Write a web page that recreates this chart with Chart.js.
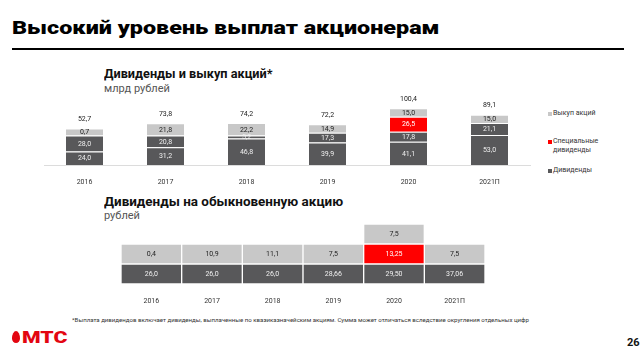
<!DOCTYPE html>
<html lang="ru">
<head>
<meta charset="utf-8">
<script src="https://cdn.jsdelivr.net/npm/chart.js@4"></script>
<style>
    body { margin: 0; width: 640px; height: 350px; background: #fff; position: relative; overflow: hidden;
           font-family: Roboto, 'Noto Sans', sans-serif; color: #222; }
    .abs { position: absolute; white-space: nowrap; transform-origin: 0 0; }
    .title { left: 12px; top: 18px; font-size: 19px; line-height: 19px; font-weight: 900; color: #000; }
    .rule { position: absolute; left: 12px; top: 48px; width: 612px; height: 2px; background: #000; }
    .h2 { left: 104px; font-size: 13px; line-height: 13px; font-weight: 700; color: #111; }
    .unit { left: 104px; font-size: 11px; line-height: 11px; color: #555; }
    .legend { left: 553px; font-size: 7px; line-height: 9px; color: #333; }
    .mark { position: absolute; left: 548px; width: 4px; height: 4px; }
    .note { left: 72px; top: 317px; font-size: 6px; line-height: 6px; color: #333; }
    .logo { left: 22px; top: 329px; font-size: 17px; line-height: 17px; font-weight: 900; color: #e30611; }
    .egg { position: absolute; left: 12px; top: 331px; width: 8px; height: 12px; background: #e30611;
           border-radius: 50% 50% 50% 50% / 62% 62% 38% 38%; }
    .page { left: 627px; top: 337px; font-size: 11px; line-height: 11px; font-weight: 700; color: #111; }
    canvas { position: absolute; left: 0; }
</style>
</head>
<body>
<div class="abs title" id="title">Высокий уровень выплат акционерам</div>
<div class="rule"></div>

<div class="abs h2" id="h2a" style="top:67px">Дивиденды и выкуп акций*</div>
<div class="abs unit" style="top:83px">млрд рублей</div>

<div class="mark" style="top:112px;background:#c8c8c8"></div>
<div class="abs legend" style="top:109px">Выкуп акций</div>
<div class="mark" style="top:140px;background:#ff0000"></div>
<div class="abs legend" style="top:137px">Специальные<br>дивиденды</div>
<div class="mark" style="top:169px;background:#58585a"></div>
<div class="abs legend" style="top:166px">Дивиденды</div>

<div class="abs h2" id="h2b" style="top:195px">Дивиденды на обыкновенную акцию</div>
<div class="abs unit" style="top:210px">рублей</div>

<canvas id="chart-buyback" width="560" height="95" style="top:90px"></canvas>
<canvas id="chart-dps" width="560" height="94" style="top:210px"></canvas>

<div class="abs note" id="note">*Выплата дивидендов включает дивиденды, выплаченные по квазиказначейским акциям. Сумма может отличаться вследствие округления отдельных цифр</div>
<div class="egg"></div>
<div class="abs logo" id="logo">МТС</div>
<div class="abs page">26</div>

<script>
// ==================== DATOS ====================

const years = ['2016', '2017', '2018', '2019', '2020', '2021П'];

// Дивиденды и выкуп акций, млрд руб.
const divFirst   = [24.0, 31.2, 46.8, 39.9, 41.1, 53.0];
const divSecond  = [28.0, 20.8, 5.2, 17.3, 17.8, 21.1];
const divSpecial = [null, null, null, null, 26.5, null];
const buyback    = [0.7, 21.8, 22.2, 14.9, 15.0, 15.0];
const totals     = [52.7, 73.8, 74.2, 72.2, 100.4, 89.1];

// Дивиденды на обыкновенную акцию, руб.
const dpsBase       = [26.0, 26.0, 26.0, 28.66, 29.50, 37.06];
const dpsBaseDigits = [1, 1, 1, 2, 2, 2];
const dpsSecond     = [0.4, 10.9, 11.1, 7.5, null, 7.5];
const dpsSpecial    = [null, null, null, null, 13.25, null];
const dpsExtra      = [null, null, null, null, 7.5, null];

const DARK = '#58585a', LIGHT = '#c8c8c8', RED = '#ff0000';

Chart.defaults.font.family = 'Roboto';
Chart.defaults.color = '#333';

function fmt(v, d) {
    if (d == null) d = Math.abs(v * 10 - Math.round(v * 10)) > 1e-6 ? 2 : 1;
    return v.toFixed(d).replace('.', ',');
}

// ── Etiquetas dentro de cada segmento + totales arriba ──────

const segLabels = {
    id: 'segLabels',
    afterDatasetsDraw(chart, args, opts) {
        const ctx = chart.ctx;
        ctx.save();
        ctx.font = '7px Roboto';
        ctx.textAlign = 'center';
        ctx.textBaseline = 'middle';
        const tops = [];
        chart.data.datasets.forEach((ds, di) => {
            const vals = ds.values || ds.data;
            chart.getDatasetMeta(di).data.forEach((bar, i) => {
                const v = vals[i];
                if (v == null) return;
                tops[i] = Math.min(tops[i] ?? Infinity, bar.y);
                ctx.fillStyle = ds.textColor;
                ctx.fillText(fmt(v, ds.digits ? ds.digits[i] : null), bar.x, (bar.y + bar.base) / 2 + 0.5);
            });
        });
        if (opts.totals) {
            ctx.fillStyle = '#222';
            const meta = chart.getDatasetMeta(0);
            opts.totals.forEach((t, i) => ctx.fillText(fmt(t, 1), meta.data[i].x, tops[i] - 9));
        }
        ctx.restore();
    }
};

// ── Gráfico 1: dividendos y recompra ───────────────────────

new Chart(document.getElementById('chart-buyback'), {
    type: 'bar',
    data: {
        labels: years,
        datasets: [
            { label: 'Дивиденды', data: divFirst, backgroundColor: DARK, textColor: '#f0f0f0' },
            { label: 'Дивиденды', data: divSecond, backgroundColor: DARK, textColor: '#f0f0f0' },
            { label: 'Специальные дивиденды', data: divSpecial, backgroundColor: RED, textColor: '#fff' },
            { label: 'Выкуп акций', data: buyback, backgroundColor: LIGHT, textColor: '#222', minBarLength: 7 },
        ]
    },
    options: {
        responsive: false,
        animation: false,
        layout: { padding: { left: 44, right: 30, top: 10, bottom: 0 } },
        datasets: {
            bar: {
                categoryPercentage: 1, barPercentage: 0.457,
                borderColor: '#fff', borderWidth: { top: 1, left: 0, right: 0, bottom: 0 }, borderSkipped: false
            }
        },
        plugins: { legend: { display: false }, tooltip: { enabled: false }, segLabels: { totals } },
        scales: {
            x: {
                stacked: true,
                grid: { display: false },
                border: { display: true, color: '#dcdcdc' },
                ticks: { font: { size: 7 }, padding: 5 },
                afterFit: s => { s.height = 20; }
            },
            y: { stacked: true, display: false, min: 0, max: 115 }
        }
    },
    plugins: [segLabels]
});

// ── Gráfico 2: dividendo por acción (celdas iguales) ───────

const cell = v => (v == null ? null : 1);

new Chart(document.getElementById('chart-dps'), {
    type: 'bar',
    data: {
        labels: years,
        datasets: [
            { data: dpsBase.map(cell), values: dpsBase, digits: dpsBaseDigits, backgroundColor: DARK, textColor: '#f0f0f0' },
            { data: dpsSecond.map(cell), values: dpsSecond, backgroundColor: LIGHT, textColor: '#222' },
            { data: dpsSpecial.map(cell), values: dpsSpecial, backgroundColor: RED, textColor: '#fff' },
            { data: dpsExtra.map(cell), values: dpsExtra, backgroundColor: LIGHT, textColor: '#222' },
        ]
    },
    options: {
        responsive: false,
        animation: false,
        layout: { padding: { left: 121, right: 75, top: 14, bottom: 0 } },
        datasets: {
            bar: {
                categoryPercentage: 1, barPercentage: 1,
                borderColor: '#fff', borderWidth: 1, borderSkipped: false
            }
        },
        plugins: { legend: { display: false }, tooltip: { enabled: false } },
        scales: {
            x: {
                stacked: true,
                grid: { display: false },
                border: { display: false },
                ticks: { font: { size: 7 }, padding: 5 },
                afterFit: s => { s.height = 20; }
            },
            y: { stacked: true, display: false, min: 0, max: 3 }
        }
    },
    plugins: [segLabels]
});

// ── Ajuste de anchos de texto ───────────────────────────────

function fitWidth(id, w) {
    const el = document.getElementById(id);
    el.style.transform = 'scaleX(' + (w / el.offsetWidth) + ')';
}
fitWidth('title', 428);
fitWidth('h2a', 169);
fitWidth('h2b', 239);
fitWidth('note', 457);
fitWidth('logo', 45);
</script>
</body>
</html>
